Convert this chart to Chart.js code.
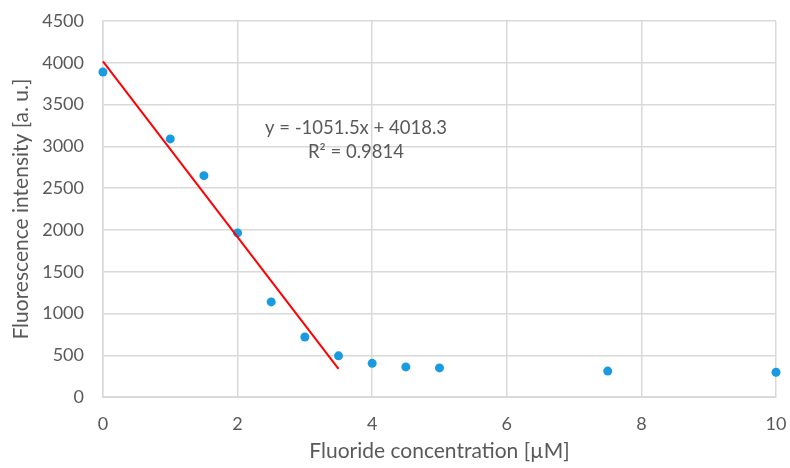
<!DOCTYPE html>
<html>
<head>
<meta charset="utf-8">
<script src="https://cdn.jsdelivr.net/npm/chart.js@4"></script>
<style>
  html, body { margin: 0; padding: 0; background: #fff; }
  #wrap { width: 790px; height: 468px; }
</style>
</head>
<body>
<div id="wrap"><canvas id="mycanvas" width="790" height="468"></canvas></div>
<script>
// measured data
var concentration = [0, 1, 1.5, 2, 2.5, 3, 3.5, 4, 4.5, 5, 7.5, 10];
var intensity = [3890, 3090, 2650, 1965, 1140, 720, 495, 405, 362, 350, 312, 298];

// linear fit shown on the chart
var slope = -1051.5;
var intercept = 4018.3;
var fitRange = [0, 3.5];
var fitLabel = ['y = -1051.5x + 4018.3', 'R² = 0.9814'];
var labelAt = {x: 3.76, y: 3215};

var points = [];
for (var i in concentration) {
	points.push({x: concentration[i], y: intensity[i]});
}
var fitLine = [];
for (var j in fitRange) {
	fitLine.push({x: fitRange[j], y: slope * fitRange[j] + intercept});
}

var textColor = '#595959';
var gridColor = '#d9d9d9';
var fontFamily = 'Lato, "Open Sans", sans-serif';

var eqLabel = {
	id: 'eqLabel',
	afterDatasetsDraw: function(chart) {
		var ctx = chart.ctx;
		var px = chart.scales.x.getPixelForValue(labelAt.x);
		var py = chart.scales.y.getPixelForValue(labelAt.y);
		ctx.save();
		ctx.fillStyle = textColor;
		ctx.font = '18.5px ' + fontFamily;
		ctx.textAlign = 'center';
		ctx.textBaseline = 'middle';
		ctx.fillText(fitLabel[0], px, py);
		ctx.fillText(fitLabel[1], px, py + 24);
		ctx.restore();
	}
};

var ctx = document.getElementById('mycanvas');
var chart = new Chart(ctx, {
	type: 'scatter',
	data: {
		datasets: [
			{
				label: 'Fit',
				type: 'line',
				data: fitLine,
				borderColor: '#ff0000',
				borderWidth: 2,
				pointRadius: 0,
				fill: false,
				clip: false,
				order: 0
			},
			{
				label: 'Fluorescence',
				data: points,
				backgroundColor: '#1a9ae0',
				borderColor: '#1a9ae0',
				pointRadius: 4.5,
				pointBorderWidth: 0,
				clip: false,
				order: 1
			}
		]
	},
	options: {
		responsive: false,
		animation: false,
		layout: { padding: { top: 21, right: 14, left: 4, bottom: 4 } },
		plugins: {
			legend: { display: false },
			tooltip: { enabled: false }
		},
		scales: {
			x: {
				type: 'linear',
				min: 0,
				max: 10,
				ticks: {
					stepSize: 2,
					color: textColor,
					font: { family: fontFamily, size: 18 },
					padding: 3
				},
				// transparent tick marks just push the labels away from the axis
				grid: { color: gridColor, lineWidth: 1.5, drawTicks: true, tickLength: 13, tickColor: 'rgba(0,0,0,0)' },
				border: { color: gridColor, width: 2 },
				title: {
					display: true,
					text: 'Fluoride concentration [µM]',
					color: textColor,
					font: { family: fontFamily, size: 21 },
					padding: { top: 1, bottom: 0 }
				}
			},
			y: {
				min: 0,
				max: 4500,
				ticks: {
					stepSize: 500,
					color: textColor,
					font: { family: fontFamily, size: 18 },
					padding: 3,
					callback: function(v) { return String(v); }
				},
				grid: { color: gridColor, lineWidth: 1.5, drawTicks: true, tickLength: 16, tickColor: 'rgba(0,0,0,0)' },
				border: { color: gridColor, width: 1.5 },
				title: {
					display: true,
					text: 'Fluorescence intensity [a. u.]',
					color: textColor,
					font: { family: fontFamily, size: 21 },
					padding: { top: 5, bottom: 5 }
				}
			}
		}
	},
	plugins: [eqLabel]
});
</script>
</body>
</html>
